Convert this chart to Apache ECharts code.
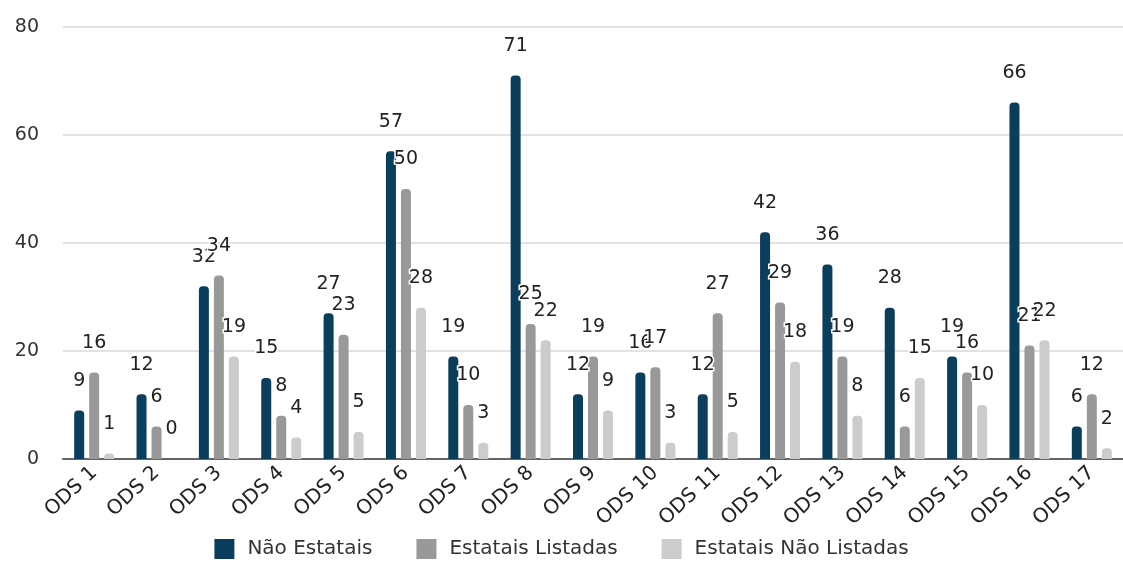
<!DOCTYPE html>
<html>
<head>
<meta charset="utf-8">
<script src="https://cdn.jsdelivr.net/npm/echarts@6/dist/echarts.min.js"></script>
<style>
html,body{margin:0;padding:0;background:#fff;}
#chart{width:1123px;height:565px;}
</style>
</head>
<body>
<div id="chart"></div>
<script>
// categorias e valores
var categorias = ['ODS 1','ODS 2','ODS 3','ODS 4','ODS 5','ODS 6','ODS 7','ODS 8','ODS 9','ODS 10','ODS 11','ODS 12','ODS 13','ODS 14','ODS 15','ODS 16','ODS 17'];
var naoEstatais = [9,12,32,15,27,57,19,71,12,16,12,42,36,28,19,66,6];
var estataisListadas = [16,6,34,8,23,50,10,25,19,17,27,29,19,6,16,21,12];
var estataisNaoListadas = [1,0,19,4,5,28,3,22,9,3,5,18,8,15,10,22,2];
var yTicks = [0,20,40,60,80];

var fonte = 'DejaVu Sans, Verdana, sans-serif';

function labelCfg(){
    return {
        show: true,
        position: 'top',
        distance: 20,
        fontSize: 19,
        color: '#222',
        fontFamily: fonte,
        textBorderColor: '#fff',
        textBorderWidth: 3
    };
}

var myChart = echarts.init(document.getElementById('chart'));
var option = {
    animation: false,
    grid: {left: 63, right: 0, top: 27, bottom: 106},
    legend: {
        bottom: 1,
        left: 'center',
        itemWidth: 20,
        itemHeight: 20,
        itemGap: 44,
        icon: 'rect',
        textStyle: {fontSize: 20, color: '#333', fontFamily: fonte, padding: [0,0,0,8]},
        data: ['Não Estatais','Estatais Listadas','Estatais Não Listadas']
    },
    xAxis: {
        type: 'category',
        data: categorias,
        axisTick: {show: false},
        axisLine: {lineStyle: {color: '#666', width: 2}},
        axisLabel: {rotate: 43, fontSize: 20, color: '#222', fontFamily: fonte, margin: 11}
    },
    yAxis: {
        type: 'value',
        min: yTicks[0],
        max: yTicks[yTicks.length - 1],
        interval: 20,
        axisLabel: {fontSize: 19, color: '#333', fontFamily: fonte, margin: 24},
        splitLine: {lineStyle: {color: '#d9d9d9', width: 1.5}}
    },
    series: [
        {
            name: 'Não Estatais',
            type: 'bar',
            data: naoEstatais,
            barWidth: 10,
            barGap: '50%',
            itemStyle: {color: '#0b3d5c', borderRadius: [4,4,0,0]},
            label: labelCfg()
        },
        {
            name: 'Estatais Listadas',
            type: 'bar',
            data: estataisListadas,
            barWidth: 10,
            barGap: '50%',
            itemStyle: {color: '#999999', borderRadius: [4,4,0,0]},
            label: labelCfg()
        },
        {
            name: 'Estatais Não Listadas',
            type: 'bar',
            data: estataisNaoListadas,
            barWidth: 10,
            barGap: '50%',
            itemStyle: {color: '#cccccc', borderRadius: [4,4,0,0]},
            label: labelCfg()
        }
    ]
};
myChart.setOption(option);
window.addEventListener('resize', function(){ myChart.resize(); });
</script>
</body>
</html>
